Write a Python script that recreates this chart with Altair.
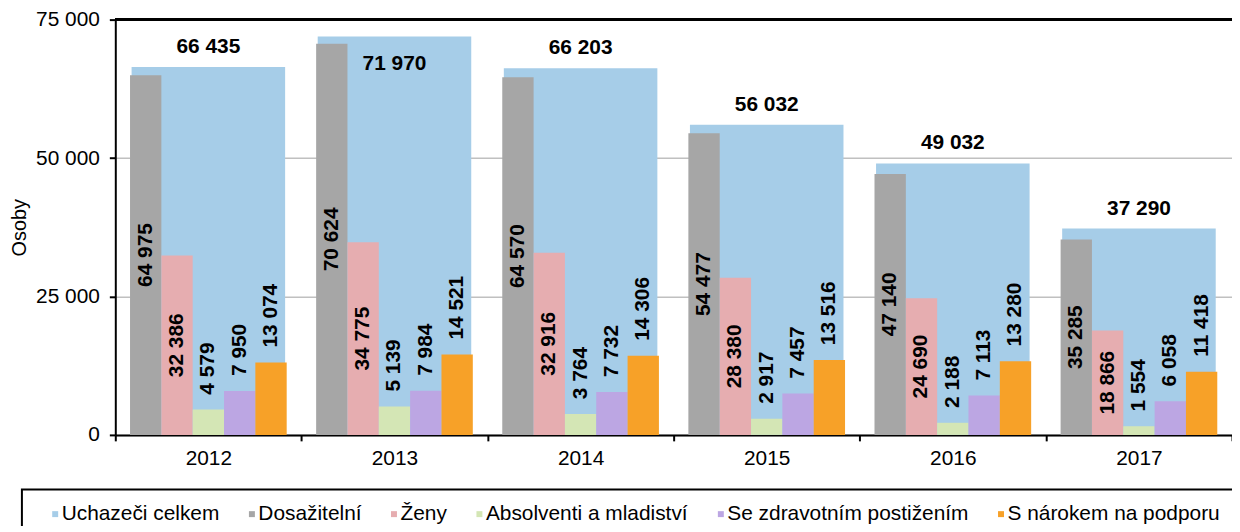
import altair as alt
import pandas as pd

years = ["2012", "2013", "2014", "2015", "2016", "2017"]
series = ["Uchazeči celkem", "Dosažitelní", "Ženy", "Absolventi a mladiství",
          "Se zdravotním postižením", "S nárokem na podporu"]
celkem = [66435, 71970, 66203, 56032, 49032, 37290]
dosazitelni = [64975, 70624, 64570, 54477, 47140, 35285]
zeny = [32386, 34775, 32916, 28380, 24690, 18866]
absolventi = [4579, 5139, 3764, 2917, 2188, 1554]
zdravotni = [7950, 7984, 7732, 7457, 7113, 6058]
podpora = [13074, 14521, 14306, 13516, 13280, 11418]
colors = ["#a6cde8", "#a6a6a6", "#e6adb0", "#d4e6b5", "#bca6e3", "#f7a128"]
y_ticks = [0, 25000, 50000, 75000]

rows = []
for s, vals in zip(series, [celkem, dosazitelni, zeny, absolventi, zdravotni, podpora]):
    for yr, v in zip(years, vals):
        rows.append({"year": yr, "series": s, "value": v,
                     "label": f"{v:,}".replace(",", " ")})
df = pd.DataFrame(rows)

narrow = series[1:]
FONT = "Liberation Sans"

x = alt.X("year:N", sort=years,
          scale=alt.Scale(paddingInner=0, paddingOuter=0),
          axis=alt.Axis(title=None, labelAngle=0, tickBand="extent", tickSize=6,
                        labelPadding=7, labelFontSize=21, labelFont=FONT,
                        labelColor="black", domainColor="black", domainWidth=2,
                        tickColor="black", tickWidth=2, grid=False))
y_axis = alt.Axis(values=y_ticks,
                  labelExpr="datum.value == 0 ? '0' : format(datum.value / 1000, 'd') + ' 000'",
                  title="Osoby", titleX=-96, titleY=209, titleAngle=270,
                  titleAlign="center", titleBaseline="middle", titleFontSize=20,
                  titleFontWeight="normal", titleFont=FONT, titleColor="black",
                  labelFontSize=21, labelFont=FONT, labelColor="black",
                  labelPadding=10, tickSize=6, tickWidth=2, tickColor="black",
                  domainColor="black", domainWidth=2,
                  gridColor="#c0c0c0", gridWidth=1.5)
yscale = alt.Scale(domain=[0, 75000], nice=False)
y = alt.Y("value:Q", scale=yscale, axis=y_axis)

color = alt.Color("series:N", scale=alt.Scale(domain=series, range=colors),
                  legend=alt.Legend(title=" ", titleOrient="left", titlePadding=9,
                                    titleFontSize=10, orient="none", legendX=-94,
                                    legendY=473, direction="horizontal", columns=6,
                                    symbolType="square", symbolSize=36,
                                    symbolStrokeWidth=0, labelFontSize=21,
                                    labelFont=FONT, labelColor="black",
                                    labelOffset={"expr": "-4"}, columnPadding=22,
                                    labelLimit=400, padding=14, strokeColor="black"))
xoff = alt.XOffset("series:N", sort=narrow,
                   scale=alt.Scale(domain=narrow, paddingInner=0, paddingOuter=0.47))

base = alt.Chart(df)

blue = base.transform_filter(alt.datum.series == series[0]).mark_bar(
    width={"band": 0.825}).encode(x=x, y=y, color=color)

bars = base.transform_filter(alt.datum.series != series[0]).mark_bar().encode(
    x=x, xOffset=xoff, y=y, color=color)

txt = dict(font=FONT, fontSize=21, fontWeight="bold", color="black")

text_mid = base.transform_filter(
    alt.FieldOneOfPredicate(field="series", oneOf=narrow[:2])
).transform_calculate(mid="datum.value / 2").mark_text(
    angle=270, align="center", baseline="middle", **txt
).encode(x=x, xOffset=xoff, y=alt.Y("mid:Q", scale=yscale, axis=y_axis), text="label:N")

text_top = base.transform_filter(
    alt.FieldOneOfPredicate(field="series", oneOf=narrow[2:])
).mark_text(angle=270, align="left", baseline="middle", dx=15, **txt).encode(
    x=x, xOffset=xoff, y=y, text="label:N")

total_low = base.transform_filter(
    (alt.datum.series == series[0]) & (alt.datum.value <= 70000)
).mark_text(align="center", baseline="alphabetic", dy=-14, **txt).encode(
    x=x, y=y, text="label:N")

total_high = base.transform_filter(
    (alt.datum.series == series[0]) & (alt.datum.value > 70000)
).mark_text(align="center", baseline="alphabetic", dy=34, **txt).encode(
    x=x, y=y, text="label:N")

top_rule = base.mark_rule(color="black", strokeWidth=2).encode(
    y=alt.datum(75000, scale=yscale, axis=y_axis))

chart = alt.layer(blue, bars, text_mid, text_top, total_low, total_high, top_rule).properties(
    width=1124, height=418,
    autosize=alt.AutoSizeParams(type="none"),
    padding={"left": 108, "top": 10, "right": 0, "bottom": 90},
).configure_view(strokeWidth=0).configure_legend(strokeWidth=2)

chart.save("out.html", embed_options={"renderer": "svg", "actions": False})
